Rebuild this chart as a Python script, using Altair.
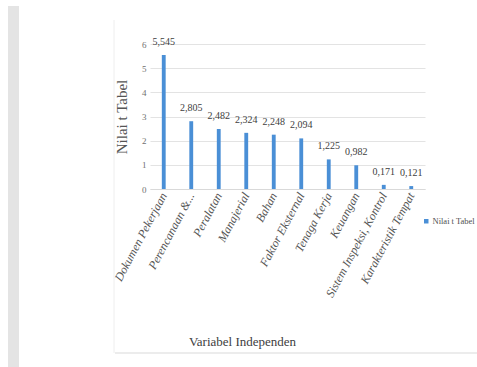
import altair as alt
import pandas as pd

categories = ["Dokumen Pekerjaan", "Perencanaan &...", "Peralatan", "Manajerial", "Bahan",
              "Faktor Eksternal", "Tenaga Kerja", "Keuangan", "Sistem Inspeksi, Kontrol",
              "Karakteristik Tempat"]
values = [5.545, 2.805, 2.482, 2.324, 2.248, 2.094, 1.225, 0.982, 0.171, 0.121]
value_labels = ["5,545", "2,805", "2,482", "2,324", "2,248", "2,094", "1,225", "0,982", "0,171", "0,121"]
series_name = "Nilai t Tabel"
y_ticks = [0, 1, 2, 3, 4, 5, 6]

df = pd.DataFrame({"cat": categories, "val": values, "lab": value_labels, "series": series_name})
one = pd.DataFrame({"a": [0]})

FONT = "Liberation Serif"
BLUE = "#4a8fd6"

x_enc = alt.X("cat:N", sort=categories,
              scale=alt.Scale(paddingInner=0.86, paddingOuter=0.43),
              axis=alt.Axis(title="Variabel Independen", labelAngle=-62, labelAlign="right",
                            labelBaseline="middle", labelFont=FONT, labelFontStyle="italic",
                            labelFontSize=12, labelColor="#555555", labelPadding=4, ticks=False,
                            domainColor="#d9d9d9", titleFont=FONT, titleFontSize=13,
                            titleFontWeight="normal", titleColor="#404040",
                            titleX=92, titleY=156, titleAlign="center",
                            titleBaseline="alphabetic", labelLimit=200, labelOverlap=False))

y_enc = alt.Y("val:Q", scale=alt.Scale(domain=[0, 6]),
              axis=alt.Axis(title="Nilai t Tabel", values=y_ticks, format="d", labelOverlap=False,
                            domain=False, ticks=False, labelFont=FONT, labelFontSize=9,
                            labelColor="#707070", labelPadding=4, gridColor="#e3e3e3",
                            titleFont=FONT, titleFontSize=15, titleFontWeight="normal",
                            titleColor="#555555", titlePadding=12))

bars = alt.Chart(df).mark_bar(color=BLUE).encode(
    x=x_enc,
    y=y_enc,
    color=alt.Color("series:N", scale=alt.Scale(range=[BLUE]),
                    legend=alt.Legend(orient="none", legendX=272, legendY=173, title=None,
                                      symbolType="square", symbolSize=20, labelFont=FONT,
                                      labelFontSize=8.5, labelColor="#505050",
                                      symbolStrokeWidth=0, labelOffset=2)),
)

texts = alt.Chart(df).mark_text(dy=-8, font=FONT, fontSize=10, color="#404040",
                                baseline="bottom").encode(
    x=x_enc, y=y_enc, text="lab:N")

strip = alt.Chart(one).mark_rect(color="#e4e4e4").encode(
    x=alt.value(-142), x2=alt.value(-131), y=alt.value(-38), y2=alt.value(323))
border_b = alt.Chart(one).mark_rule(color="#e6e6e6", strokeWidth=1.5).encode(
    x=alt.value(-35), x2=alt.value(327), y=alt.value(309))
border_l = alt.Chart(one).mark_rule(color="#eeeeee", strokeWidth=1).encode(
    x=alt.value(-36), y=alt.value(-24), y2=alt.value(309))

chart = alt.layer(strip, border_b, border_l, bars, texts).properties(
    width=275, height=145,
    autosize=alt.AutoSizeParams(type="none"),
    padding={"left": 150, "top": 44, "right": 52, "bottom": 178},
    background="white",
).configure_view(stroke=None)

chart.save("out.html", embed_options={"renderer": "svg", "actions": False})
